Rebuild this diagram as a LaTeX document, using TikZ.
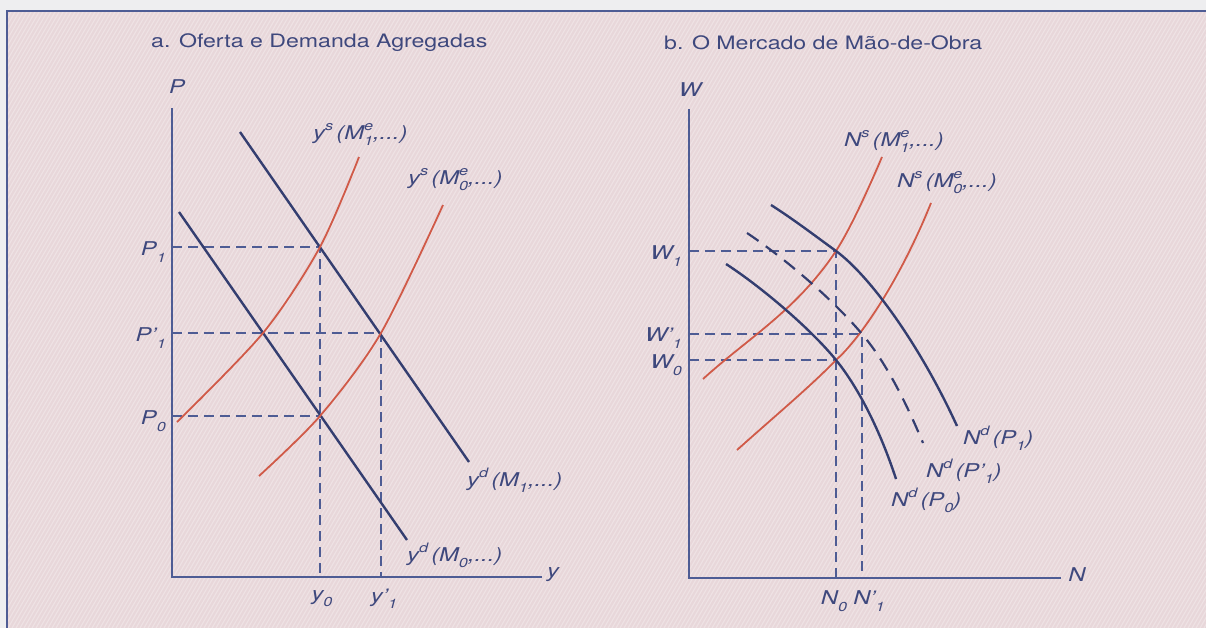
\documentclass[tikz,border=0pt]{standalone}
\usepackage{fontspec}
\setmainfont[FakeStretch=1.25]{TeX Gyre Heros}
\definecolor{bgpink}{RGB}{232,215,218}
\definecolor{outerbg}{RGB}{238,238,240}
\definecolor{curveblue}{RGB}{52,62,112}
\definecolor{axisblue}{RGB}{78,92,148}
\definecolor{supred}{RGB}{208,90,72}
\definecolor{txt}{RGB}{62,72,125}
\newcommand\sps[1]{\smash{\raisebox{0.48em}{\fontsize{13}{13}\selectfont #1}}}
\newcommand\sbs[1]{\smash{\raisebox{-0.32em}{\fontsize{13}{13}\selectfont #1}}}
\newcommand\spsb[2]{\makebox[0pt][l]{\sps{#1}}\sbs{#2}}
\newcommand\prsb[1]{'\sbs{#1}}
\tikzset{
  axis/.style={axisblue, line width=1.8pt},
  demand/.style={curveblue, line width=2.4pt},
  demanddash/.style={curveblue, line width=2.2pt, dash pattern=on 14pt off 9pt},
  supply/.style={supred, line width=1.8pt},
  guide/.style={axisblue, line width=1.3pt, dash pattern=on 10pt off 6pt},
  lbl/.style={txt, font=\fontsize{19}{20}\selectfont\itshape, inner sep=0pt},
  ttl/.style={txt, font=\fontsize{18.5}{20}\selectfont, inner sep=0pt},
  hatch/.style={white, opacity=0.28, line width=1.1pt},
}
\begin{document}
\begin{tikzpicture}[x=1pt,y=-1pt]
\useasboundingbox (0,0) rectangle (1206,628);
\fill[outerbg] (0,0) rectangle (1206,628);
\fill[bgpink] (7,11) rectangle (1206,628);
\begin{scope}
  \clip (7,11) rectangle (1206,628);
  \foreach \i in {-400,-396,...,1206} \draw[hatch] (\i,628) -- ++(362,-628);
\end{scope}
\draw[axisblue, line width=1.5pt] (7,628) -- (7,11) -- (1206,11);

% titles
\node[ttl, anchor=west] (ta) at (151,43) {a. Oferta e Demanda Agregadas};
\node[ttl, anchor=west] (tb) at (664,43) {b. O Mercado de Mão-de-Obra};

% ---------------- panel a ----------------
\coordinate (Oa) at (172,577);
\coordinate (Pt) at (172,108);
\coordinate (Ye) at (542,577);
\coordinate (E1) at (320,247);
\coordinate (E1p) at (381,333);
\coordinate (E0) at (320,416);
\coordinate (tP1) at (172,247);
\coordinate (tP1p) at (172,333);
\coordinate (tP0) at (172,416);

\draw[guide] (tP1) -- (E1) -- (E1 |- Oa);
\draw[guide] (tP1p) -- (E1p) -- (E1p |- Oa);
\draw[guide] (tP0) -- (E0);

\draw[axis] (Pt) -- (Oa) -- (Ye);
\node[lbl] (Plab) at (177,87) {P};
\node[lbl] (ylab) at (553,575) {y};

\coordinate (dM1s) at (240,132);
\coordinate (dM1e) at (469,462);
\coordinate (dM0s) at (179,212);
\coordinate (dM0e) at (407,540);
\draw[demand] (dM1s) -- (dM1e);
\draw[demand] (dM0s) -- (dM0e);

\draw[supply] plot[smooth] coordinates {(177,422) (263,333) (320,247) (359,157)};
\draw[supply] plot[smooth] coordinates {(259,476) (320,416) (381,333) (443,205)};

\node[lbl, anchor=east] (lP1) at (166,249) {P\sbs{1}};
\node[lbl, anchor=east] (lP1p) at (166,335) {P\prsb{1}};
\node[lbl, anchor=east] (lP0) at (166,418) {P\sbs{0}};
\node[lbl] (ly0) at (322,598) {y\sbs{0}};
\node[lbl] (ly1p) at (384,598) {y\prsb{1}};

\node[lbl, anchor=west] (lsM1) at (313,135) {y\sps{s}\,(M\spsb{e}{1},...)};
\node[lbl, anchor=west] (lsM0) at (408,180) {y\sps{s}\,(M\spsb{e}{0},...)};
\node[lbl, anchor=west] (ldM1) at (467,482) {y\sps{d}\,(M\sbs{1},...)};
\node[lbl, anchor=west] (ldM0) at (407,557) {y\sps{d}\,(M\sbs{0},...)};

% ---------------- panel b ----------------
\coordinate (Ob) at (689,578);
\coordinate (Wt) at (689,109);
\coordinate (Ne) at (1061,578);
\coordinate (F1) at (836,251);
\coordinate (F1p) at (862,334);
\coordinate (F0) at (836,360);
\coordinate (tW1) at (689,251);
\coordinate (tW1p) at (689,334);
\coordinate (tW0) at (689,360);

\draw[guide] (tW1) -- (F1) -- (F1 |- Ob);
\draw[guide] (tW1p) -- (F1p) -- (F1p |- Ob);
\draw[guide] (tW0) -- (F0);

\draw[axis] (Wt) -- (Ob) -- (Ne);
\node[lbl] (Wlab) at (690,90) {W};
\node[lbl] (Nlab) at (1077,575) {N};

% supply curves
\draw[supply] (703,379) .. controls (748,338) and (796,311) .. (F1)
              .. controls (851,228) and (870,185) .. (882,157);
\draw[supply] (737,450) .. controls (775,416) and (812,385) .. (F0)
              .. controls (860,339) and (900,280) .. (931,203);

% demand curves
\draw[demand] (771,205) .. controls (793,219) and (814,235) .. (F1)
              .. controls (870,276) and (920,345) .. (957,426);
\draw[demanddash] (747,233) .. controls (780,255) and (830,296) .. (F1p)
              .. controls (885,361) and (905,400) .. (923,443);
\draw[demand] (726,264) .. controls (760,286) and (810,328) .. (F0)
              .. controls (858,387) and (880,430) .. (896,479);

\node[lbl, anchor=east] (lW1) at (682,253) {W\sbs{1}};
\node[lbl, anchor=east] (lW1p) at (682,335) {W\prsb{1}};
\node[lbl, anchor=east] (lW0) at (682,362) {W\sbs{0}};
\node[lbl] (lN0) at (834,598) {N\sbs{0}};
\node[lbl] (lN1p) at (869,598) {N\prsb{1}};

\node[lbl, anchor=west] (lNsM1) at (844,142) {N\sps{s}\,(M\spsb{e}{1},...)};
\node[lbl, anchor=west] (lNsM0) at (897,183) {N\sps{s}\,(M\spsb{e}{0},...)};
\node[lbl, anchor=west] (lNdP1) at (963,440) {N\sps{d}\,(P\sbs{1})};
\node[lbl, anchor=west] (lNdP1p) at (926,473) {N\sps{d}\,(P\prsb{1})};
\node[lbl, anchor=west] (lNdP0) at (891,502) {N\sps{d}\,(P\sbs{0})};
\end{tikzpicture}
\end{document}
